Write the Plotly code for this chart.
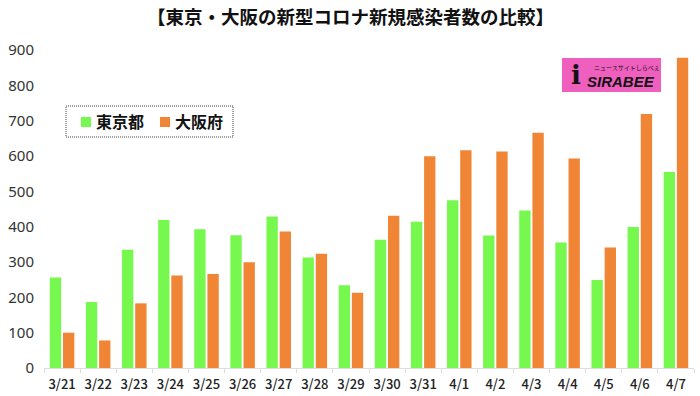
import plotly.graph_objects as go

dates = ["3/21","3/22","3/23","3/24","3/25","3/26","3/27","3/28","3/29","3/30","3/31","4/1","4/2","4/3","4/4","4/5","4/6","4/7"]
tokyo = [256,187,335,419,393,376,429,313,234,363,414,475,375,446,355,249,399,555]
osaka = [100,78,183,262,266,299,386,323,213,431,599,616,613,666,593,341,719,878]
yticks = [0,100,200,300,400,500,600,700,800,900]
title = "【東京・大阪の新型コロナ新規感染者数の比較】"
JP = "Noto Sans CJK JP"

fig = go.Figure()
fig.add_bar(x=dates, y=tokyo, name="東京都", marker=dict(color="#76F84E", line_width=0), showlegend=False)
fig.add_bar(x=dates, y=osaka, name="大阪府", marker=dict(color="#F08635", line_width=0), showlegend=False)

# page pixel -> paper fraction of the plot area (plot area is 44..694 x, 50..368 y on the page)
def to_x(p): return (p - 44) / 650
def to_y(p): return (368 - p) / 318

shapes = [
    dict(type="rect", xref="paper", yref="paper", x0=to_x(66), x1=to_x(233), y0=to_y(137), y1=to_y(106),
         line=dict(color="#444444", width=1, dash="1px,1px"), fillcolor="white", layer="above"),
    dict(type="rect", xref="paper", yref="paper", x0=to_x(81), x1=to_x(91), y0=to_y(127), y1=to_y(117),
         line_width=0, fillcolor="#76F84E", layer="above"),
    dict(type="rect", xref="paper", yref="paper", x0=to_x(160), x1=to_x(170), y0=to_y(127), y1=to_y(117),
         line_width=0, fillcolor="#F08635", layer="above"),
    dict(type="rect", xref="paper", yref="paper", x0=to_x(562), x1=to_x(661), y0=to_y(92), y1=to_y(58),
         line_width=0, fillcolor="#EE5FBE", layer="above"),
]
annotations = [
    dict(text="<b>" + title + "</b>", x=to_x(350), y=to_y(16.5), xref="paper", yref="paper", showarrow=False,
         font=dict(family=JP, size=18.5, color="#111"), xanchor="center", yanchor="middle"),
    dict(text="<b>東京都</b>", x=to_x(120), y=to_y(121), xref="paper", yref="paper", showarrow=False,
         font=dict(family=JP, size=16, color="#111"), xanchor="center", yanchor="middle"),
    dict(text="<b>大阪府</b>", x=to_x(199), y=to_y(121), xref="paper", yref="paper", showarrow=False,
         font=dict(family=JP, size=16, color="#111"), xanchor="center", yanchor="middle"),
    dict(text="<b><i>SIRABEE</i></b>", x=to_x(621), y=to_y(81), xref="paper", yref="paper", showarrow=False,
         font=dict(family="Liberation Sans", size=15, color="#111"), xanchor="center", yanchor="middle"),
    dict(text="<b>i</b>", x=to_x(576), y=to_y(75), xref="paper", yref="paper", showarrow=False,
         font=dict(family="DejaVu Serif", size=26, color="#111"), xanchor="center", yanchor="middle"),
    dict(text="ニュースサイトしらべぇ", x=to_x(627), y=to_y(67), xref="paper", yref="paper", showarrow=False,
         font=dict(family=JP, size=6, color="#111"), xanchor="center", yanchor="middle"),
]

fig.update_layout(
    width=700, height=396, autosize=False,
    margin=dict(l=44, r=6, t=50, b=28),
    paper_bgcolor="white", plot_bgcolor="white",
    barmode="group", bargap=0.27, bargroupgap=0.14,
    xaxis=dict(type="category", automargin=False, showgrid=False, showline=True, linecolor="#DDDDDD", linewidth=1,
               ticks="outside", ticklen=4, tickcolor="#DDDDDD", tickangle=0,
               tickson="boundaries", ticklabelstandoff=4,
               tickfont=dict(family=JP, size=13, color="#222", weight=500)),
    yaxis=dict(range=[0, 900], automargin=False, tickvals=yticks, showgrid=False, zeroline=False, showline=False, ticks="",
               ticklabelstandoff=9, tickfont=dict(family="Noto Sans", size=15, color="#333")),
    shapes=shapes, annotations=annotations,
)
fig.write_html("out.html", config={"displayModeBar": False}, post_script="document.body.style.margin='0';")
